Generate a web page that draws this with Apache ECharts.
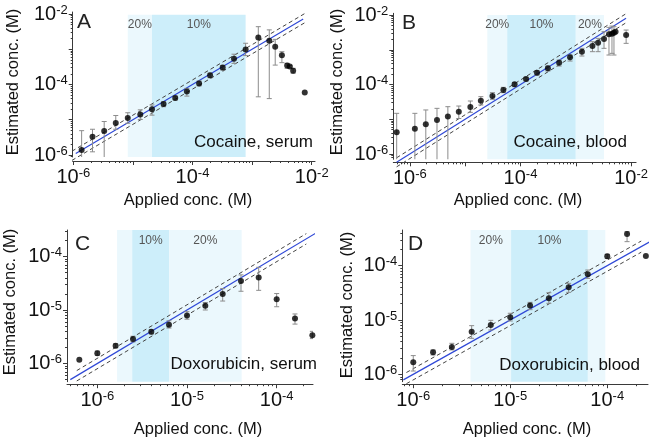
<!DOCTYPE html>
<html><head><meta charset="utf-8">
<script src="https://cdn.jsdelivr.net/npm/echarts@6/dist/echarts.min.js"></script>
<style>html,body{margin:0;padding:0;background:#fff}#c{width:651px;height:440px}</style>
</head><body><div id="c"></div>
<script>
// ---------- Panel A: Cocaine, serum ----------
const aApplied   = [1.38e-6,2.10e-6,3.30e-6,5.16e-6,8.20e-6,1.33e-5,2.09e-5,3.27e-5,5.13e-5,8.04e-5,1.29e-4,1.97e-4,3.21e-4,4.97e-4,7.78e-4,1.27e-3,1.94e-3,2.44e-3,3.16e-3,3.87e-3,4.29e-3,4.88e-3,7.64e-3];
const aEstimated = [1.38e-6,3.31e-6,4.79e-6,8.13e-6,1.12e-5,1.41e-5,2.00e-5,2.82e-5,4.17e-5,6.31e-5,1.07e-4,1.82e-4,3.02e-4,5.37e-4,9.77e-4,2.14e-3,1.74e-3,1.17e-3,6.76e-4,3.47e-4,3.24e-4,2.45e-4,5.89e-5];
const aErrLow    = [5.0e-7,1.23e-6,5.0e-7,5.37e-6,7.94e-6,1.02e-5,1.35e-5,2.34e-5,3.63e-5,4.68e-5,9.12e-5,1.55e-4,2.57e-4,3.98e-4,6.61e-4,4.47e-5,3.98e-5,3.55e-4,4.17e-4,2.88e-4,3.02e-4,2.09e-4,5.89e-5];
const aErrHigh   = [4.90e-6,5.37e-6,8.91e-6,1.32e-5,1.58e-5,1.91e-5,2.63e-5,3.24e-5,4.68e-5,7.76e-5,1.26e-4,2.09e-4,3.47e-4,7.24e-4,1.48e-3,4.37e-3,3.55e-3,1.91e-3,8.51e-4,3.98e-4,3.47e-4,2.88e-4,5.89e-5];
const aBandEdges = [8.2e-6,2.09e-5,7.78e-4];
const aBandLabels = ['20%','10%'];
const aBandKinds  = ['light','dark'];
const aBlueRange = [1.1e-6,7.2e-3];
const aDashRange = [9.5e-7,7.6e-3];
const aDashFactors = [1.35,0.74];
const aXTickLabels = [1e-6,1e-4,1e-2];
const aYTickLabels = [1e-6,1e-4,1e-2];

// ---------- Panel B: Cocaine, blood ----------
const bApplied   = [5.77e-7,1.23e-6,1.94e-6,3.09e-6,4.86e-6,7.66e-6,1.24e-5,1.92e-5,3.11e-5,4.90e-5,7.82e-5,1.26e-4,1.99e-4,3.13e-4,5.00e-4,7.87e-4,1.29e-3,2.00e-3,2.53e-3,3.24e-3,3.98e-3,4.51e-3,4.90e-3,5.24e-3,8.13e-3];
const bEstimated = [4.21e-6,5.36e-6,7.14e-6,9.51e-6,1.19e-5,1.65e-5,2.25e-5,3.43e-5,4.67e-5,6.95e-5,1.01e-4,1.44e-4,2.19e-4,2.92e-4,4.25e-4,6.05e-4,8.81e-4,1.28e-3,1.60e-3,2.04e-3,2.78e-3,2.90e-3,3.10e-3,3.31e-3,2.65e-3];
const bErrLow    = [4.0e-7,4.0e-7,4.0e-7,4.0e-7,4.0e-7,1.05e-5,1.58e-5,2.57e-5,3.74e-5,5.82e-5,8.67e-5,1.26e-4,1.87e-4,2.44e-4,3.40e-4,4.74e-4,6.61e-4,8.81e-4,8.81e-4,1.10e-3,7.06e-4,7.89e-4,7.06e-4,3.31e-3,1.53e-3];
const bErrHigh   = [1.48e-5,1.48e-5,1.85e-5,2.06e-5,2.30e-5,2.40e-5,3.35e-5,4.47e-5,5.82e-5,8.28e-5,1.13e-4,1.61e-4,2.50e-4,3.40e-4,5.07e-4,7.06e-4,1.10e-3,1.71e-3,2.13e-3,3.31e-3,4.42e-3,4.82e-3,4.61e-3,3.31e-3,3.70e-3];
const bBandEdges = [2.51e-5,5.75e-5,1.0e-3,3.24e-3];
const bBandLabels = ['20%','10%','20%'];
const bBandKinds  = ['light','dark','light'];
const bBlueRange = [5.75e-7,8.1e-3];
const bDashRange = [5.75e-7,8.7e-3];
const bDashFactors = [1.35,0.74];
const bXTickLabels = [1e-6,1e-4,1e-2];
const bYTickLabels = [1e-6,1e-4,1e-2];

// ---------- Panel C: Doxorubicin, serum ----------
const cApplied   = [6.3e-7,1.0e-6,1.6e-6,2.5e-6,4.0e-6,6.3e-6,1.0e-5,1.6e-5,2.5e-5,4.0e-5,6.3e-5,1.0e-4,1.6e-4,2.5e-4];
const cEstimated = [1.17e-6,1.55e-6,2.14e-6,2.88e-6,3.94e-6,5.30e-6,7.87e-6,1.20e-5,2.00e-5,3.47e-5,4.05e-5,1.59e-5,6.92e-6,3.37e-6];
const cErrLow    = [1.17e-6,1.42e-6,1.97e-6,2.54e-6,3.56e-6,4.60e-6,6.73e-6,1.00e-5,1.47e-5,2.24e-5,2.33e-5,1.15e-5,5.45e-6,2.92e-6];
const cErrHigh   = [1.17e-6,1.71e-6,2.33e-6,3.23e-6,4.29e-6,6.28e-6,9.31e-6,1.38e-5,2.51e-5,4.53e-5,6.28e-5,2.03e-5,8.43e-6,3.99e-6];
const cBandEdges = [1.66e-6,2.45e-6,6.31e-6,4.07e-5];
const cBandLabels = ['','10%','20%'];
const cBandKinds  = ['light','dark','light'];
const cBlueRange = [5.0e-7,3.16e-4];
const cDashRange = [5.9e-7,2.14e-4];
const cDashFactors = [1.25,0.8];
const cXTickLabels = [1e-6,1e-5,1e-4];
const cYTickLabels = [1e-6,1e-5,1e-4];

// ---------- Panel D: Doxorubicin, blood ----------
const dApplied   = [1.0e-6,1.6e-6,2.5e-6,4.0e-6,6.3e-6,1.0e-5,1.6e-5,2.5e-5,4.0e-5,6.3e-5,1.0e-4,1.6e-4,2.5e-4];
const dEstimated = [1.66e-6,2.54e-6,3.18e-6,6.10e-6,8.09e-6,1.12e-5,1.84e-5,2.51e-5,3.99e-5,6.92e-5,1.49e-4,3.83e-4,1.51e-4];
const dErrLow    = [1.15e-6,2.27e-6,2.81e-6,4.60e-6,6.55e-6,9.59e-6,1.55e-5,2.03e-5,3.23e-5,5.85e-5,1.36e-4,2.77e-4,1.51e-4];
const dErrHigh   = [2.21e-6,2.81e-6,3.72e-6,7.87e-6,9.86e-6,1.33e-5,2.11e-5,3.18e-5,4.73e-5,8.32e-5,1.62e-4,4.23e-4,1.51e-4];
const dBandEdges = [3.89e-6,1.02e-5,6.31e-5,9.55e-5];
const dBandLabels = ['20%','10%',''];
const dBandKinds  = ['light','dark','light'];
const dBlueRange = [7.9e-7,2.75e-4];
const dDashRange = [8.5e-7,2.24e-4];
const dDashFactors = [1.27,0.79];
const dXTickLabels = [1e-6,1e-5,1e-4];
const dYTickLabels = [1e-6,1e-5,1e-4];

// ---------- build ----------
const FONT = '"Liberation Sans", Arial, Helvetica, sans-serif';
const lg = v => Math.log10(v);
function decades(min, max){const r=[];for(let n=Math.ceil(min-1e-9);n<=Math.floor(max+1e-9);n++)r.push(n);return r;}
function minors(min, max){const r=[];for(let n=Math.floor(min);n<=Math.ceil(max);n++){for(let k=2;k<=9;k++){const v=n+Math.log10(k);if(v>=min&&v<=max)r.push(v);}}return r;}
const BAND_COLORS = {light:'#ebf8fd', dark:'#cdeefa'};

const panels = [
  {app:aApplied,est:aEstimated,lo:aErrLow,hi:aErrHigh,edges:aBandEdges,bl:aBandLabels,bk:aBandKinds,blue:aBlueRange,dash:aDashRange,df:aDashFactors,xl:aXTickLabels,yl:aYTickLabels,
   grid:{left:72.7,top:12,width:242.3,height:145}, x:[-6.01,-1.945], y:[-6.057,-1.943], bandTop:-2.02, off:4, bandDist:4},
  {app:bApplied,est:bEstimated,lo:bErrLow,hi:bErrHigh,edges:bBandEdges,bl:bBandLabels,bk:bBandKinds,blue:bBlueRange,dash:bDashRange,df:bDashFactors,xl:bXTickLabels,yl:bYTickLabels,
   grid:{left:393.3,top:13.3,width:245,height:146}, x:[-6.30,-1.91], y:[-6.153,-1.95], bandTop:-2.0, off:3, bandDist:4},
  {app:cApplied,est:cEstimated,lo:cErrLow,hi:cErrHigh,edges:cBandEdges,bl:cBandLabels,bk:cBandKinds,blue:cBlueRange,dash:cDashRange,df:cDashFactors,xl:cXTickLabels,yl:cYTickLabels,
   grid:{left:67,top:230,width:246,height:151.7}, x:[-6.338,-3.595], y:[-6.34,-3.505], bandTop:-3.505, off:2.5, bandDist:5},
  {app:dApplied,est:dEstimated,lo:dErrLow,hi:dErrHigh,edges:dBandEdges,bl:dBandLabels,bk:dBandKinds,blue:dBlueRange,dash:dDashRange,df:dDashFactors,xl:dXTickLabels,yl:dYTickLabels,
   grid:{left:402.3,top:230,width:245.7,height:151.7}, x:[-6.113,-3.58], y:[-6.136,-3.343], bandTop:-3.343, off:2.5, bandDist:5}
];

const rich = {
  b:{fontSize:20, fontFamily:FONT, color:'#111', lineHeight:21},
  s:{fontSize:13, fontFamily:FONT, color:'#111', verticalAlign:'top'}
};
const supFmt = v => '{b|10}{s|' + Math.round(v) + '}';
const AX = '#3a3a3a';

const grids=[], xAxes=[], yAxes=[], series=[];
panels.forEach((p,i)=>{
  grids.push(Object.assign({containLabel:false}, p.grid));
  const xi = xAxes.length, yi = yAxes.length;
  xAxes.push({type:'value',gridIndex:i,position:'bottom',min:p.x[0],max:p.x[1],offset:p.off,
    axisLine:{show:true,lineStyle:{color:AX,width:1}},
    axisTick:{show:true,length:4,customValues:decades(p.x[0],p.x[1]),lineStyle:{color:AX}},
    axisLabel:{show:true,customValues:p.xl.map(lg),margin:6,formatter:supFmt,rich:rich},
    splitLine:{show:false}});
  xAxes.push({type:'value',gridIndex:i,position:'bottom',min:p.x[0],max:p.x[1],offset:p.off,
    axisLine:{show:false},axisTick:{show:true,length:2,customValues:minors(p.x[0],p.x[1]),lineStyle:{color:AX}},
    axisLabel:{show:false},splitLine:{show:false}});
  yAxes.push({type:'value',gridIndex:i,position:'left',min:p.y[0],max:p.y[1],
    axisLine:{show:true,lineStyle:{color:AX,width:1}},
    axisTick:{show:true,length:4,customValues:decades(p.y[0],p.y[1]),lineStyle:{color:AX}},
    axisLabel:{show:true,customValues:p.yl.map(lg),margin:5,formatter:supFmt,rich:rich},
    splitLine:{show:false}});
  yAxes.push({type:'value',gridIndex:i,position:'left',min:p.y[0],max:p.y[1],
    axisLine:{show:false},axisTick:{show:true,length:2,customValues:minors(p.y[0],p.y[1]),lineStyle:{color:AX}},
    axisLabel:{show:false},splitLine:{show:false}});

  // bands
  const areas = p.bk.map((k,j)=>[
    {name:p.bl[j], xAxis:lg(p.edges[j]), yAxis:p.y[0], itemStyle:{color:BAND_COLORS[k]}},
    {xAxis:lg(p.edges[j+1]), yAxis:p.bandTop}
  ]);
  series.push({type:'line',xAxisIndex:xi,yAxisIndex:yi,data:[],z:1,silent:true,
    markArea:{silent:true,label:{show:true,position:'insideTop',distance:p.bandDist,color:'#555',fontSize:12,fontFamily:FONT},data:areas}});

  // dashed tolerance lines
  p.df.forEach(f=>{
    series.push({type:'line',xAxisIndex:xi,yAxisIndex:yi,z:3,clip:false,showSymbol:false,silent:true,
      data:p.dash.map(v=>[lg(v),lg(v*f)]),lineStyle:{color:'#444',width:1,type:[4,3]}});
  });
  // identity line
  series.push({type:'line',xAxisIndex:xi,yAxisIndex:yi,z:4,clip:false,showSymbol:false,silent:true,
    data:p.blue.map(v=>[lg(v),lg(v)]),lineStyle:{color:'#2f48d6',width:1.2}});

  // error bars
  series.push({type:'custom',xAxisIndex:xi,yAxisIndex:yi,z:5,clip:true,silent:true,
    data:p.app.map((a,j)=>[lg(a),lg(p.lo[j]),lg(p.hi[j])]),
    encode:{x:0,y:[1,2]},
    renderItem:(params,api)=>{
      const x=api.value(0), lo=api.value(1), hi=api.value(2);
      if (Math.abs(hi-lo)<1e-6) return null;
      const a=api.coord([x,lo]), b=api.coord([x,hi]);
      const w=2.5, st={stroke:'#8c8c8c',lineWidth:1};
      return {type:'group',children:[
        {type:'line',shape:{x1:a[0],y1:a[1],x2:b[0],y2:b[1]},style:st},
        {type:'line',shape:{x1:b[0]-w,y1:b[1],x2:b[0]+w,y2:b[1]},style:st},
        {type:'line',shape:{x1:a[0]-w,y1:a[1],x2:a[0]+w,y2:a[1]},style:st}
      ]};
    }});
  // points
  series.push({type:'scatter',xAxisIndex:xi,yAxisIndex:yi,z:6,clip:false,silent:true,symbolSize:6,
    itemStyle:{color:'#000'},data:p.app.map((a,j)=>[lg(a),lg(p.est[j])])});
});

function txt(x,y,text,size,align,rot,color){
  return {type:'text',x:x,y:y,rotation:rot||0,silent:true,z:100,
    style:{text:text,font:size+'px '+FONT,fill:color||'#111',textAlign:align||'center',textVerticalAlign:'middle',align:align||'center',verticalAlign:'middle'}};
}
const graphics = [
  txt(77,22,'A',21,'left',0,'#222'), txt(402,23,'B',21,'left',0,'#222'),
  txt(75,244,'C',21,'left',0,'#222'), txt(408,244,'D',21,'left',0,'#222'),
  txt(313,142,'Cocaine, serum',17,'right'), txt(627,142,'Cocaine, blood',17,'right'),
  txt(317,364,'Doxorubicin, serum',17,'right'), txt(640,365,'Doxorubicin, blood',17,'right'),
  txt(188,200,'Applied conc. (M)',16.5,'center'), txt(518,200,'Applied conc. (M)',16.5,'center'),
  txt(198,429,'Applied conc. (M)',16.5,'center'), txt(527,429,'Applied conc. (M)',16.5,'center'),
  txt(13.5,82,'Estimated conc. (M)',16.5,'center',Math.PI/2), txt(337,82,'Estimated conc. (M)',16.5,'center',Math.PI/2),
  txt(10,302,'Estimated conc. (M)',16.5,'center',Math.PI/2), txt(347,305,'Estimated conc. (M)',16.5,'center',Math.PI/2)
];

const chart = echarts.init(document.getElementById('c'), null, {renderer:'canvas'});
chart.setOption({animation:false, backgroundColor:'#fff', grid:grids, xAxis:xAxes, yAxis:yAxes, series:series, graphic:graphics});
</script></body></html>
